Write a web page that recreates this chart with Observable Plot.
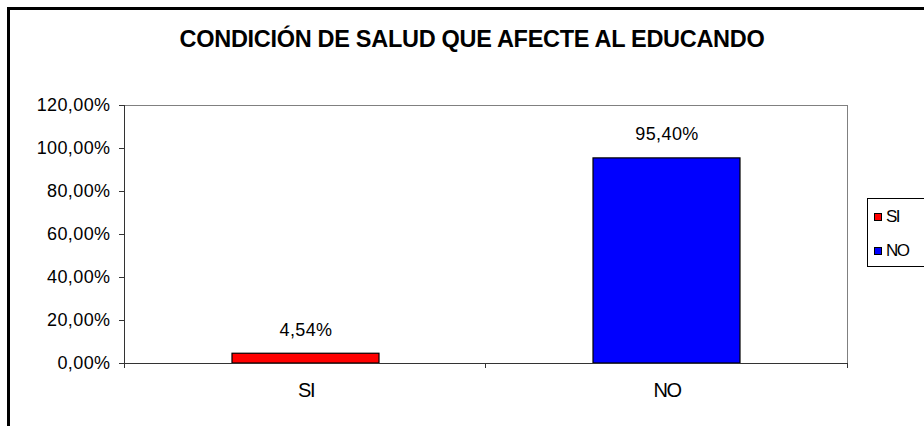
<!DOCTYPE html>
<html><head><meta charset="utf-8">
<script src="https://cdn.jsdelivr.net/npm/d3@7"></script>
<script src="https://cdn.jsdelivr.net/npm/@observablehq/plot@0.6"></script>
<style>
html,body{margin:0;padding:0;background:#fff;overflow:hidden;}
#wrap{position:relative;width:924px;height:426px;font-family:"Liberation Sans",Arial,sans-serif;overflow:hidden;}
#border{position:absolute;left:7px;top:7px;width:1000px;height:1000px;border-left:3px solid #000;border-top:3px solid #000;}
#title{position:absolute;left:10px;width:924px;top:28px;line-height:23px;text-align:center;font-weight:bold;font-size:23.5px;letter-spacing:-0.3px;color:#000;white-space:nowrap;}
#chart{position:absolute;left:0;top:0;}
#legend{position:absolute;left:867px;top:198px;width:80px;height:69px;border:1px solid #000;box-sizing:border-box;background:#fff;font-size:17px;}
.item{position:absolute;left:6px;height:16px;line-height:16px;white-space:nowrap;}
.sw{display:inline-block;width:6px;height:6px;border:1px solid #000;margin-right:4px;vertical-align:middle;position:relative;top:-1px;}
</style></head>
<body>
<div id="wrap">
  <div id="border"></div>
  <div id="chart"></div>
  <div id="title"></div>
  <div id="legend"></div>
</div>
<script>
const categories = ["SI", "NO"];
const values = [4.54, 95.40];
const valueLabels = ["4,54%", "95,40%"];
const colors = ["#FF0000", "#0000FF"];
const yTicks = [0, 20, 40, 60, 80, 100, 120];
const titleText = "CONDICIÓN DE SALUD QUE AFECTE AL EDUCANDO";

const data = categories.map((c, i) => ({cat: c, value: values[i], label: valueLabels[i]}));
const fmt = d => d.toFixed(2).replace(".", ",") + "%";

function axisLines(index, scales, vals, dims) {
  const g = d3.create("svg:g").attr("stroke", "#333").attr("fill", "none").attr("shape-rendering", "crispEdges");
  const l = dims.marginLeft, r = dims.width - dims.marginRight;
  const t = scales.y(120), b = scales.y(0);
  g.append("line").attr("x1", l).attr("x2", l).attr("y1", t).attr("y2", b);
  g.append("line").attr("x1", l).attr("x2", r).attr("y1", b).attr("y2", b);
  const n = categories.length;
  for (let i = 0; i <= n; i++) {
    const x = l + i * (r - l) / n;
    g.append("line").attr("x1", x).attr("x2", x).attr("y1", b).attr("y2", b + 5);
  }
  return g.node();
}

const chart = Plot.plot({
  width: 924, height: 426,
  marginLeft: 124, marginRight: 77, marginTop: 105, marginBottom: 63,
  style: {fontFamily: "'Liberation Sans', Arial, sans-serif", background: "transparent", color: "#000"},
  x: {domain: categories, paddingInner: 0.593, paddingOuter: 0.2965, axis: null, label: null},
  y: {domain: [0, 120], axis: null, label: null},
  color: {domain: categories, range: colors},
  marks: [
    Plot.frame({stroke: "#808080", shapeRendering: "crispEdges"}),
    Plot.barY(data, {x: "cat", y: "value", fill: "cat", stroke: "#000", strokeWidth: 1.2}),
    axisLines,
    Plot.axisY(yTicks, {tickSize: 5, tickPadding: 9, tickFormat: fmt, fontSize: 18, stroke: "#333", label: null}),
    Plot.axisX(categories, {tickSize: 0, tickPadding: 19, fontSize: 20, label: null}),
    Plot.text(data, {x: "cat", y: "value", text: "label", dy: -24, fontSize: 18, fill: "#000"})
  ]
});
document.getElementById("chart").appendChild(chart);
d3.select(chart).selectAll("[aria-label='y-axis tick label'] text").attr("letter-spacing", "0.4px");
d3.select(chart).selectAll("[aria-label='x-axis tick label'] text").attr("letter-spacing", "-1.5px");
d3.select(chart).selectAll("[aria-label='text'] text").attr("letter-spacing", "0.4px");

document.getElementById("title").textContent = titleText;
const legend = d3.select("#legend");
categories.forEach((c, i) => {
  const it = legend.append("div").attr("class", "item").style("top", (10 + i * 34) + "px");
  it.append("span").attr("class", "sw").style("background", colors[i]);
  it.append("span").style("letter-spacing", "-1.5px").text(c);
});
</script>
</body></html>
